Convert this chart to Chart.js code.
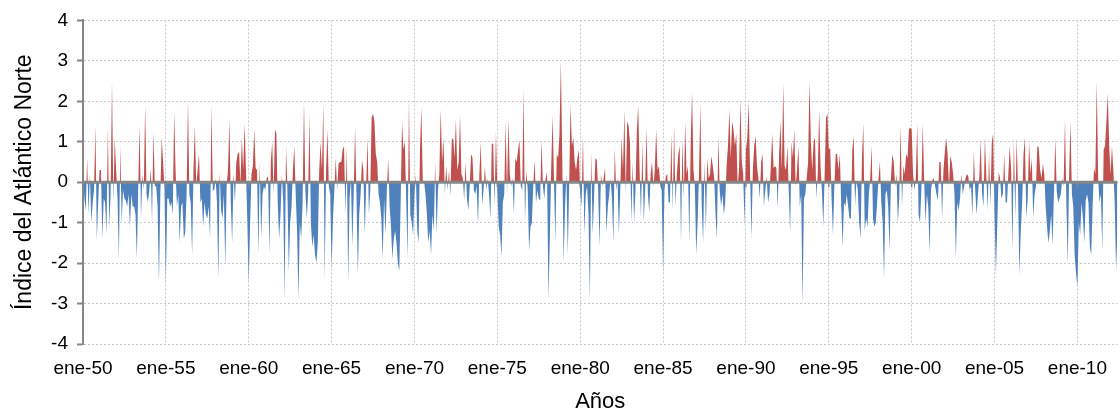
<!DOCTYPE html>
<html>
<head>
<meta charset="utf-8">
<script src="https://cdn.jsdelivr.net/npm/chart.js@4/dist/chart.umd.min.js"></script>
<style>
  body { margin: 0; background: #fff; }
  #wrap { width: 1120px; height: 413px; }
</style>
</head>
<body>
<div id="wrap"><canvas id="naoChart"></canvas></div>
<script>
const months = ['ene', 'feb', 'mar', 'abr', 'may', 'jun', 'jul', 'ago', 'sep', 'oct', 'nov', 'dic'];
const startYear = 1950;

// monthly NAO index in blocks of 125 months
const naoFrom1950Jan = [
  0.2, -0.4, -0.7, 0.6, -0.8, 0.2, -1.0, -0.5, -0.2, 1.4,
  -1.45, -0.5, 0.3, 0.3, -1.4, -0.4, -0.5, -1.3, 1.35, -1.1,
  -0.3, 2.5, -0.5, 1.1, 0.3, -0.4, -1.9, 0.9, -1.0, -0.2,
  -0.4, -0.45, -0.6, -0.3, -1.1, -0.3, -0.6, -0.6, -0.8, -1.9,
  -0.1, 1.4, -0.9, 0.2, -0.2, 1.9, -0.3, -0.5, -0.2, 0.35,
  -1.0, 1.25, -0.1, -0.1, -0.6, -2.5, -0.3, 1.1, 0.5, -0.2,
  -2.55, -0.4, -0.4, -0.6, -0.5, -0.8, 1.75, 0.3, -0.6, -0.3,
  -1.5, -0.6, -0.5, -1.4, -1.25, -0.3, 2.05, -0.3, -0.5, -1.8,
  0.3, 1.4, -0.1, 0.3, 0.7, -0.5, -0.4, -1.1, -0.5, -0.8,
  -0.9, -0.6, -1.4, 1.9, -0.2, -0.2, 0.1, -0.5, -2.4, 0.25,
  -0.7, -0.9, -0.3, -2.1, -0.1, 0.3, 1.55, -0.5, -1.5, 0.25,
  -0.5, 0.5, 0.7, 0.75, -0.05, 1.1, 0.3, 1.45, 0.3, -1.0,
  -2.5, -1.0, 0.2, 0.4, 1.3
];
const naoFrom1960Jun = [
  0.35, 0.3, -1.8, 0.5, -1.4, -0.3, -0.1, -0.2, 0.1, 0.15,
  -1.8, 0.5, 1.0, -0.3, 1.3, 1.2, -0.5, -1.4, -0.8, 0.2,
  -0.5, -2.9, 0.9, -0.2, -2.2, -1.0, -0.6, 0.3, 0.9, -0.3,
  -1.2, -2.9, -1.0, -1.4, -0.5, 2.0, -0.2, -0.9, -0.3, 1.65,
  -1.0, -1.6, -1.3, -1.8, -2.0, -1.5, 0.25, 1.0, 0.3, 1.95,
  -2.4, 0.3, 1.3, -0.1, -0.3, -2.15, -0.9, -0.2, 0.6, -0.2,
  0.45, 0.5, 0.5, 0.8, 0.9, -0.8, 0.9, -2.5, -0.4, 0.1,
  -1.6, -0.3, 1.35, -0.3, -2.3, -0.8, -0.3, 0.55, 0.3, -1.3,
  -0.1, 1.1, -0.8, -0.2, 1.6, 1.7, 1.5, 0.7, 0.5, -0.3,
  -0.5, -0.9, -1.9, -0.4, -1.3, -0.2, 0.6, -0.6, -1.1, -1.9,
  -1.4, -1.2, -1.5, -2.0, -2.2, -0.5, 1.5, 0.8, 1.0, -0.4,
  -1.9, 2.1, -0.8, -1.0, -1.3, -0.3, 0.2, -1.2, -1.5, 0.8,
  1.85, 0.05, 0.0, -0.3, -0.8
];
const naoFrom1970Nov = [
  -1.5, -1.2, -1.8, -0.8, -1.2, 0.5, -1.3, -0.2, 0.2, 1.8,
  0.5, 1.1, -0.3, 0.4, -0.2, 0.3, -0.35, 1.05, 1.1, 0.6,
  1.55, 0.3, 0.5, 1.65, 0.2, 0.1, -0.45, 0.5, -0.4, -0.7,
  -0.1, 0.7, 0.6, -0.2, -0.3, -0.1, -1.05, 0.2, 1.0, -0.55,
  -0.2, 0.4, -0.2, 0.1, -0.3, -0.9, 0.95, 0.95, -0.6, 1.25,
  -0.2, -1.1, -1.3, -1.85, -0.5, -0.3, 1.5, -0.3, 1.6, 0.2,
  -0.1, 0.1, -0.8, 0.6, 0.5, 0.8, 1.05, -0.1, -0.2, 2.3,
  -1.0, 0.3, -0.2, -1.7, -1.1, -1.0, -0.1, 0.55, -0.5, -0.2,
  -0.4, -0.45, 1.05, -0.1, -0.4, 0.1, 0.25, -2.9, -1.4, 0.35,
  1.65, 0.1, -1.5, 0.7, 0.6, 1.2, 3.0, 0.6, -2.0, -0.6,
  0.2, -1.8, -0.1, 1.9, 0.9, 1.1, 0.5, 0.3, 0.6, 0.8,
  -0.3, -0.6, 1.2, -1.3, -0.3, -0.1, -0.8, -2.95, 0.75, -1.3,
  -0.4, 0.6, 0.55, -0.2, -1.6
];
const naoFrom1981Apr = [
  0.2, -0.1, 0.1, 0.35, -1.25, -0.6, -0.3, 0.1, -0.4, -1.5,
  0.85, -0.2, 0.1, -1.3, -0.2, 1.1, 0.3, 1.8, -0.3, 1.5,
  1.4, 1.0, -1.0, 0.5, -1.0, -0.2, 1.25, 1.9, 0.3, -0.9,
  1.0, -1.0, -0.2, 1.35, -0.3, -0.75, 0.2, 0.5, -0.1, 0.3,
  1.3, 0.3, 0.4, -0.1, -0.2, -2.3, -0.2, 0.15, 0.2, -0.5,
  -0.5, 1.2, -0.7, 1.4, -0.6, 0.2, 0.7, 0.9, -1.5, 1.1,
  -0.4, 1.5, 0.2, 0.4, -1.5, 1.0, 2.25, 0.3, -0.1, -1.8,
  -1.0, 0.2, 1.95, -0.6, -1.5, 0.5, -1.2, 0.6, 0.1, 0.2,
  0.65, 0.4, 0.1, -0.8, -1.4, 1.15, -0.2, -0.6, -0.3, -0.8,
  -0.5, 0.4, 0.9, 1.8, 0.6, 1.5, 1.3, 0.9, 1.2, -0.1,
  0.3, 2.05, 0.5, 0.2, -1.1, 0.8, 1.1, 2.0, 0.2, -1.4,
  0.3, 0.9, 1.15, 0.4, 0.1, -0.4, 0.5, 0.7, -0.6, -0.2,
  0.15, -0.5, -0.3, 0.4, 1.2
];
const naoFrom1991Sep = [
  0.35, 0.4, 0.35, -0.65, 0.7, 1.5, 0.3, 2.45, 0.4, 0.3,
  0.9, -0.2, -1.3, 1.0, 0.6, 1.3, -0.1, 0.3, 0.9, -0.6,
  -0.3, -3.05, -0.4, -0.3, 0.1, 0.5, 2.5, 1.0, 0.3, 1.0,
  1.1, -0.4, 0.2, 1.8, 0.4, -0.2, -1.1, 0.2, 1.6, 1.7,
  0.8, 0.85, -0.4, -1.3, -0.1, 0.7, 0.7, 0.3, 0.7, -0.6,
  -1.6, -0.5, -0.6, -0.3, -0.6, -0.9, -0.9, 0.8, 1.15, -0.6,
  0.05, -0.2, -1.0, -1.4, 0.6, 1.45, -1.2, -0.9, -1.1, -0.3,
  0.1, 0.9, -0.9, -1.1, -1.0, -0.5, 0.1, 0.5, -0.5, -1.0,
  -2.4, -0.3, -0.2, -0.6, -1.7, 0.1, 0.7, 0.5, -0.1, 0.2,
  -1.0, -0.4, 1.4, -0.6, 0.4, 0.2, 0.7, 0.6, 1.3, 1.35,
  1.3, 0.2, -0.2, 0.1, 1.45, -0.8, -1.0, -0.2, 1.45, 0.1,
  -1.0, -0.3, -0.6, -1.75, -0.2, 0.05, 0.1, -0.1, -0.3, -0.45,
  0.5, 0.5, -0.9, 0.3, 0.75
];
const naoFrom2002Feb = [
  1.1, 0.7, -0.1, 0.65, 0.5, 0.2, -0.3, -1.9, -0.5, -0.7,
  -0.4, 0.2, -0.3, -0.1, 0.1, 0.2, 0.15, -0.2, -0.1, -0.85,
  0.75, -0.2, -0.8, -0.3, 0.15, 1.05, -0.3, -0.6, 1.1, 0.2,
  -0.7, 0.7, -0.6, 1.0, 1.2, -0.8, -2.3, -1.0, 0.25, 0.1,
  -0.4, -0.3, 0.7, -0.5, -0.5, 0.2, 0.9, 0.3, -1.7, 1.1,
  -0.9, 1.1, -0.2, -2.3, -1.2, -0.5, 0.7, 1.1, -0.9, -0.4,
  1.0, 0.2, 0.6, -0.9, -0.3, -0.1, 0.9, 0.85, 0.3, 0.1,
  0.45, 0.2, -0.6, -1.1, -1.5, -1.2, -0.8, -1.55, -0.3, 1.1,
  -0.2, -0.5, -0.4, -0.3, 0.1, -0.1, 1.55, -0.5, -2.05, 0.2,
  1.5, -0.3, -0.6, -1.8, -2.25, -2.6, -1.0, -1.3, -0.5, -0.9,
  -1.5, -0.45, -0.3, -0.5, -1.6, -1.8, -0.6, 0.35, 0.2, 2.5,
  0.1, -0.5, -0.3, -1.7, 0.8, 0.9, 1.5, 2.2, 0.9, 0.2,
  0.9, 0.3, -0.5, -2.2, -1.2
];

const naoValues = [].concat(naoFrom1950Jan, naoFrom1960Jun, naoFrom1970Nov,
  naoFrom1981Apr, naoFrom1991Sep, naoFrom2002Feb);

// category labels like "ene-50"
const labels = naoValues.map((v, i) => {
  const yr = (startYear + Math.floor(i / 12)) % 100;
  return months[i % 12] + '-' + String(yr).padStart(2, '0');
});

const FONT = '"Liberation Sans", Arial, sans-serif';
const axisGray = '#868686';

// thick zero line over the areas, with little ticks under it
const zeroLine = {
  id: 'zeroLine',
  afterDatasetsDraw(chart) {
    const {ctx, chartArea, scales} = chart;
    const y0 = scales.y.getPixelForValue(0);
    ctx.save();
    ctx.strokeStyle = axisGray;
    ctx.lineWidth = 3;
    ctx.beginPath();
    ctx.moveTo(chartArea.left, y0);
    ctx.lineTo(chartArea.right, y0);
    ctx.stroke();
    ctx.lineWidth = 1.5;
    for (let i = 0; i < labels.length; i += 60) {
      const x = scales.x.getPixelForValue(i);
      ctx.beginPath();
      ctx.moveTo(x, y0);
      ctx.lineTo(x, y0 + 5);
      ctx.stroke();
    }
    ctx.restore();
  }
};

new Chart(document.getElementById('naoChart'), {
  type: 'line',
  data: {
    labels: labels,
    datasets: [{
      data: naoValues,
      borderWidth: 0,
      pointRadius: 0,
      tension: 0,
      fill: {
        target: 'origin',
        above: '#C0504D',
        below: '#4F81BD'
      }
    }]
  },
  options: {
    animation: false,
    responsive: true,
    maintainAspectRatio: false,
    layout: { padding: { top: 20, right: 0, bottom: 0, left: 0 } },
    plugins: {
      legend: { display: false },
      tooltip: { enabled: false }
    },
    scales: {
      x: {
        afterFit: (s) => { s.height = 69; },
        grid: {
          color: '#c8c8c8',
          lineWidth: 1,
          drawTicks: false
        },
        border: { display: false, dash: [2, 2] },
        ticks: {
          autoSkip: false,
          maxRotation: 0,
          minRotation: 0,
          padding: 13,
          color: '#000',
          font: { family: FONT, size: 19 },
          callback: function (val, i) {
            return i % 60 === 0 ? labels[i] : null;
          }
        },
        title: {
          display: true,
          text: 'Años',
          color: '#000',
          font: { family: FONT, size: 22, lineHeight: 1.05 },
          padding: { top: 0, bottom: 0 }
        }
      },
      y: {
        min: -4,
        max: 4,
        afterFit: (s) => { s.width = 83; },
        grid: {
          color: '#c8c8c8',
          lineWidth: 1,
          tickColor: axisGray,
          tickLength: 6,
          tickWidth: 2,
          tickBorderDash: []
        },
        border: { display: true, color: axisGray, width: 2, dash: [2, 2] },
        ticks: {
          stepSize: 1,
          padding: 9,
          color: '#000',
          font: { family: FONT, size: 19 }
        },
        title: {
          display: true,
          text: 'Índice del Atlántico Norte',
          color: '#000',
          font: { family: FONT, size: 23 },
          padding: { top: 11, bottom: 0 }
        }
      }
    }
  },
  plugins: [zeroLine]
});
</script>
</body>
</html>
